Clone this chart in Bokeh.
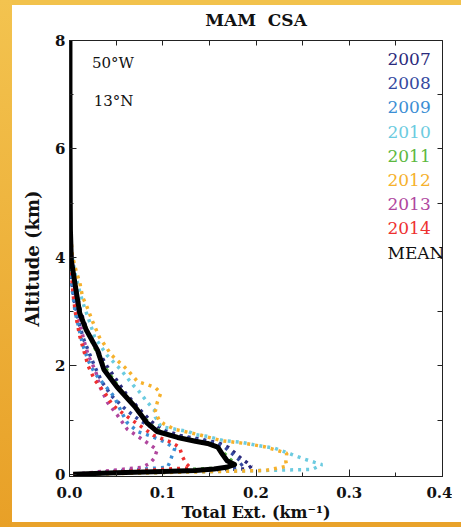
from bokeh.plotting import figure
from bokeh.embed import file_html
from bokeh.resources import INLINE
from bokeh.models import (Range1d, SingleIntervalTicker, FixedTicker, LinearAxis, NumeralTickFormatter,
                          Label, GlobalInlineStyleSheet)

# ---- data (extinction km^-1, altitude km) ----
years = ["2007", "2008", "2009", "2010", "2011", "2012", "2013", "2014"]
colors = ["#2b2a7c", "#3549a0", "#3b8ed4", "#6ccbe0", "#5cb840", "#f6b12c", "#b0469e", "#ee3030"]

ext_2007 = [0.004, 0.19, 0.195, 0.19, 0.185, 0.177, 0.17, 0.16, 0.14, 0.12, 0.10, 0.088, 0.075, 0.06, 0.05, 0.04, 0.03, 0.02, 0.012, 0.007, 0.003, 0.001, 0.0]
alt_2007 = [0.0, 0.10, 0.15, 0.22, 0.28, 0.40, 0.50, 0.58, 0.65, 0.71, 0.82, 0.97, 1.2, 1.5, 1.75, 2.0, 2.3, 2.6, 3.0, 3.4, 3.8, 4.3, 4.7]

ext_2008 = [0.004, 0.18, 0.186, 0.18, 0.172, 0.165, 0.15, 0.13, 0.11, 0.09, 0.075, 0.06, 0.045, 0.035, 0.028, 0.022, 0.015, 0.01, 0.005, 0.002, 0.0]
alt_2008 = [0.0, 0.12, 0.20, 0.30, 0.42, 0.52, 0.60, 0.66, 0.73, 0.85, 1.0, 1.2, 1.45, 1.7, 1.95, 2.2, 2.5, 2.8, 3.2, 3.6, 4.0]

ext_2009 = [0.004, 0.105, 0.108, 0.11, 0.113, 0.102, 0.088, 0.073, 0.062, 0.056, 0.048, 0.035, 0.027, 0.02, 0.014, 0.01, 0.006, 0.003, 0.001, 0.0]
alt_2009 = [0.0, 0.13, 0.24, 0.35, 0.48, 0.60, 0.70, 0.79, 0.95, 1.14, 1.43, 1.7, 1.87, 2.1, 2.4, 2.7, 3.0, 3.4, 3.8, 4.2]

ext_2010 = [0.005, 0.26, 0.271, 0.263, 0.252, 0.238, 0.22, 0.202, 0.185, 0.166, 0.148, 0.136, 0.127, 0.098, 0.092, 0.091, 0.084, 0.075, 0.068, 0.055, 0.04, 0.027, 0.021, 0.016, 0.012, 0.006, 0.002, 0.0]
alt_2010 = [0.0, 0.09, 0.18, 0.22, 0.28, 0.37, 0.48, 0.53, 0.59, 0.62, 0.70, 0.73, 0.79, 0.88, 1.06, 1.19, 1.32, 1.52, 1.65, 1.93, 2.2, 2.53, 2.84, 3.08, 3.3, 3.7, 4.1, 4.6]

ext_2011 = [0.004, 0.17, 0.178, 0.172, 0.165, 0.158, 0.145, 0.12, 0.10, 0.088, 0.077, 0.068, 0.055, 0.045, 0.037, 0.028, 0.02, 0.012, 0.007, 0.003, 0.001, 0.0]
alt_2011 = [0.0, 0.12, 0.20, 0.28, 0.40, 0.50, 0.58, 0.66, 0.76, 0.90, 1.1, 1.3, 1.55, 1.8, 2.0, 2.3, 2.6, 2.95, 3.3, 3.7, 4.1, 4.5]

ext_2012 = [0.005, 0.21, 0.233, 0.232, 0.233, 0.209, 0.188, 0.163, 0.139, 0.113, 0.102, 0.096, 0.092, 0.094, 0.098, 0.092, 0.084, 0.073, 0.062, 0.045, 0.032, 0.025, 0.018, 0.014, 0.011, 0.0075, 0.003, 0.001, 0.0]
alt_2012 = [0.0, 0.07, 0.15, 0.24, 0.39, 0.51, 0.57, 0.62, 0.73, 0.83, 0.92, 1.0, 1.16, 1.32, 1.5, 1.6, 1.65, 1.71, 1.93, 2.2, 2.53, 2.81, 3.12, 3.27, 3.54, 3.72, 4.04, 4.5, 4.9]

ext_2013 = [0.005, 0.078, 0.086, 0.091, 0.094, 0.086, 0.075, 0.062, 0.051, 0.041, 0.033, 0.028, 0.02, 0.015, 0.011, 0.008, 0.005, 0.003, 0.001, 0.0]
alt_2013 = [0.0, 0.13, 0.20, 0.30, 0.45, 0.55, 0.68, 0.83, 1.1, 1.32, 1.6, 1.9, 2.2, 2.5, 2.8, 3.1, 3.5, 3.9, 4.3, 4.7]

ext_2014 = [0.004, 0.13, 0.125, 0.121, 0.118, 0.109, 0.09, 0.077, 0.067, 0.056, 0.046, 0.038, 0.027, 0.02, 0.015, 0.011, 0.007, 0.004, 0.002, 0.0]
alt_2014 = [0.0, 0.12, 0.20, 0.33, 0.50, 0.59, 0.72, 0.88, 1.0, 1.14, 1.28, 1.5, 1.74, 2.0, 2.3, 2.55, 2.9, 3.3, 3.7, 4.2]

ext_mean = [0.004, 0.05, 0.10, 0.135, 0.155, 0.168, 0.177, 0.169, 0.164, 0.159, 0.148, 0.135, 0.116, 0.094, 0.083, 0.07, 0.051, 0.037, 0.03, 0.018, 0.011, 0.0075, 0.002, 0.001, 0.0008, 0.0006, 0.0005, 0.0005]
alt_mean = [0.0, 0.03, 0.05, 0.07, 0.10, 0.13, 0.18, 0.25, 0.37, 0.50, 0.57, 0.61, 0.68, 0.79, 0.95, 1.25, 1.61, 1.93, 2.29, 2.66, 2.97, 3.34, 3.94, 4.5, 5.0, 6.0, 7.0, 8.0]

series_ext = [ext_2007, ext_2008, ext_2009, ext_2010, ext_2011, ext_2012, ext_2013, ext_2014]
series_alt = [alt_2007, alt_2008, alt_2009, alt_2010, alt_2011, alt_2012, alt_2013, alt_2014]

x_ticks_major = 0.1
y_ticks_major = 2
x_minor_ticks = [0.05, 0.1, 0.15, 0.2, 0.25, 0.3, 0.35]
y_minor_ticks = [1, 2, 3, 4, 5, 6, 7]

SERIF = "DejaVu Serif"

p = figure(frame_width=373, frame_height=436, output_backend="svg", toolbar_location=None,
           x_range=Range1d(0, 0.4), y_range=Range1d(-0.04, 8.0),
           min_border_left=69, min_border_right=10, min_border_top=40, min_border_bottom=0,
           border_fill_color=None, background_fill_color="white")

p.title.text = "MAM\u00a0\u00a0CSA"
p.title.align = "center"
p.title.vertical_align = "top"
p.title.text_font = SERIF
p.title.text_font_style = "bold"
p.title.text_font_size = "17px"
p.title.text_color = "#111111"
p.title.standoff = 18

p.grid.visible = False
p.outline_line_color = "#222222"
p.outline_line_width = 1

def style_axis(ax, ticker):
    ax.ticker = ticker
    ax.axis_line_color = "#222222"
    ax.major_tick_in = 7
    ax.major_tick_out = 0
    ax.minor_tick_in = 4
    ax.minor_tick_out = 0
    ax.major_tick_line_color = "#222222"
    ax.minor_tick_line_color = "#222222"
    ax.major_label_text_font = SERIF
    ax.major_label_text_font_style = "bold"
    ax.major_label_text_font_size = "15px"
    ax.major_label_text_color = "#111111"
    ax.axis_label_text_font = SERIF
    ax.axis_label_text_font_style = "bold"
    ax.axis_label_text_font_size = "18px"
    ax.axis_label_text_color = "#111111"

style_axis(p.xaxis[0], SingleIntervalTicker(interval=x_ticks_major, num_minor_ticks=2))
p.xaxis[0].formatter = NumeralTickFormatter(format="0.0")
p.xaxis[0].major_label_standoff = 10
p.xaxis[0].axis_label = "Total Ext. (km\u207b\u00b9)"
p.xaxis[0].axis_label_text_font_size = "16px"
p.xaxis[0].axis_label_standoff = 2
style_axis(p.yaxis[0], SingleIntervalTicker(interval=y_ticks_major, num_minor_ticks=2))
p.yaxis[0].axis_label = "Altitude (km)"
p.yaxis[0].major_label_standoff = 4
p.yaxis[0].axis_label_standoff = 9

# top / right axes: tick marks only (no labels)
top = LinearAxis()
style_axis(top, FixedTicker(ticks=[], minor_ticks=x_minor_ticks))
top.minor_tick_in = 5
top.major_label_standoff = 0
top.axis_label_standoff = 0
p.add_layout(top, "above")
right = LinearAxis()
style_axis(right, FixedTicker(ticks=[], minor_ticks=y_minor_ticks))
right.minor_tick_in = 5
right.major_label_standoff = 0
p.add_layout(right, "right")

for ex, al, c in zip(series_ext, series_alt, colors):
    p.line(ex, al, line_color=c, line_width=3.5, line_dash="3 5")
p.line(ext_mean, alt_mean, line_color="black", line_width=5, line_join="round")

# location labels
p.add_layout(Label(x=0.024, y=7.58, text="50\u00b0W", text_font=SERIF, text_font_size="15px",
                   text_baseline="middle", text_color="#111111"))
p.add_layout(Label(x=0.026, y=6.88, text="13\u00b0N", text_font=SERIF, text_font_size="15px",
                   text_baseline="middle", text_color="#111111"))

# coloured legend texts
legend_names = years + ["MEAN"]
legend_colors = colors + ["#111111"]
for i, (nm, c) in enumerate(zip(legend_names, legend_colors)):
    p.add_layout(Label(x=0.341, y=7.66 - 0.4465 * i, text=nm, text_font=SERIF, text_font_size="17px",
                       text_baseline="middle", text_color=c))

p.stylesheets = [GlobalInlineStyleSheet(css="""
html { background:
  linear-gradient(to bottom, #f3c34f, #e8a027) 0 0 / 12px 527px no-repeat,
  linear-gradient(#f2c24c, #f2c24c) 0 0 / 100% 5px no-repeat,
  linear-gradient(#e9a22a, #e9a22a) 0 522px / 100% 5px no-repeat,
  #ffffff; }
body { background: transparent; }
""")]

open("out.html", "w").write(file_html(p, INLINE))
